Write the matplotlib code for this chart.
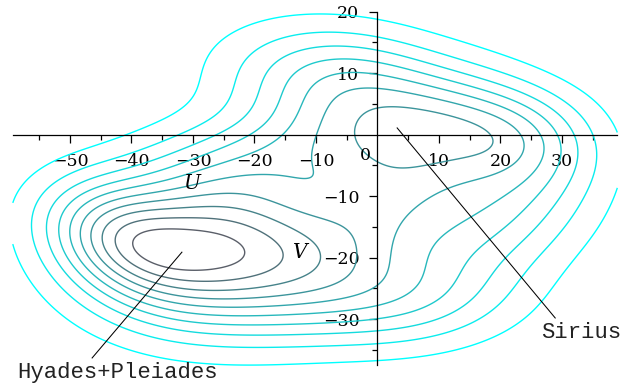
import numpy as np
import matplotlib
matplotlib.use("Agg")
import matplotlib.pyplot as plt

# U-V velocity-space density, built up from tilted Gaussian components
comp_weight = [4.498, 9.489, 3.677, 3.974, 4.756, 3.772, 3.550, 3.248]
comp_u = [-42.42, -25.71, 3.16, 22.28, -4.19, 17.00, -10.38, 0.83]
comp_v = [-16.56, -18.84, -26.25, -0.80, 7.87, -12.72, -2.24, -9.97]
comp_s1 = [5.68, 13.95, 13.25, 9.34, 13.48, 11.61, 18.42, 12.95]
comp_s2 = [8.82, 8.48, 6.02, 5.85, 6.44, 6.95, 5.58, 7.02]
comp_angle = [1.224, 0.030, 0.024, -0.103, -0.141, 0.116, 0.138, 0.745]

levels = [1, 2, 3, 4, 5, 6, 7, 8, 9, 10]
u_range = (-59.3, 39)
v_range = (-37.5, 20)

x_major = [-50, -40, -30, -20, -10, 10, 20, 30]
y_major = [-30, -20, -10, 10, 20]

# name, text position, pointer start, pointer end
labels = [
    ("Hyades+Pleiades", (-58.6, -38.6), (-46.4, -36.3), (-31.8, -19.1)),
    ("Sirius", (26.6, -32.2), (28.9, -29.8), (3.2, 1.1)),
]


def density(U, V):
    f = np.zeros_like(U)
    for w, u0, v0, s1, s2, th in zip(comp_weight, comp_u, comp_v, comp_s1, comp_s2, comp_angle):
        c, s = np.cos(th), np.sin(th)
        du, dv = U - u0, V - v0
        a = (c * du + s * dv) / s1
        b = (-s * du + c * dv) / s2
        f += w * np.exp(-0.5 * (a * a + b * b))
    return f


UU, VV = np.meshgrid(np.linspace(*u_range, 400), np.linspace(*v_range, 240))
F = density(UU, VV)

# outer contours cyan, inner ones dark slate
c_out = np.array([0, 255, 255]) / 255
c_in = np.array([90, 95, 105]) / 255
colors = [tuple(c_out + (c_in - c_out) * t) for t in np.linspace(0, 1, len(levels))]

plt.rcParams["font.family"] = "DejaVu Serif"
fig = plt.figure(figsize=(6.37, 3.90), dpi=100)
ax = fig.add_axes([0, 0, 1, 1])
ax.set_xlim(-61.38, 42.2)
ax.set_ylim(-41.51, 21.9)

ax.contour(UU, VV, F, levels=levels, colors=colors, linewidths=1.0)

# axes crossing at the origin
for side in ("top", "right"):
    ax.spines[side].set_visible(False)
ax.spines["left"].set_position(("data", 0))
ax.spines["bottom"].set_position(("data", 0))
ax.spines["bottom"].set_bounds(*u_range)
ax.spines["left"].set_bounds(-37.5, 20)
for side in ("left", "bottom"):
    ax.spines[side].set_linewidth(0.9)

ax.set_xticks(x_major)
ax.set_xticks(np.arange(-55, 40, 10), minor=True)
ax.set_yticks(y_major)
ax.set_yticks(np.arange(-35, 20, 10), minor=True)
ax.tick_params(which="major", length=6, width=0.9, labelsize=12.5, pad=7)
ax.tick_params(which="minor", length=3.5, width=0.9)

ax.text(-2.0, -3.4, "0", fontsize=12.5, ha="center", va="center")
ax.text(-30.2, -8.0, "U", fontsize=14.5, style="italic", ha="center", va="center")
ax.text(-12.5, -19.2, "V", fontsize=14.5, style="italic", ha="center", va="center")

for name, (tx, ty), (x0, y0), (x1, y1) in labels:
    ax.plot([x0, x1], [y0, y1], color="black", lw=0.75)
    ax.text(tx, ty, name, family="Liberation Mono", fontsize=16, va="center", color="#222222")

fig.savefig("out.png", dpi=100)
